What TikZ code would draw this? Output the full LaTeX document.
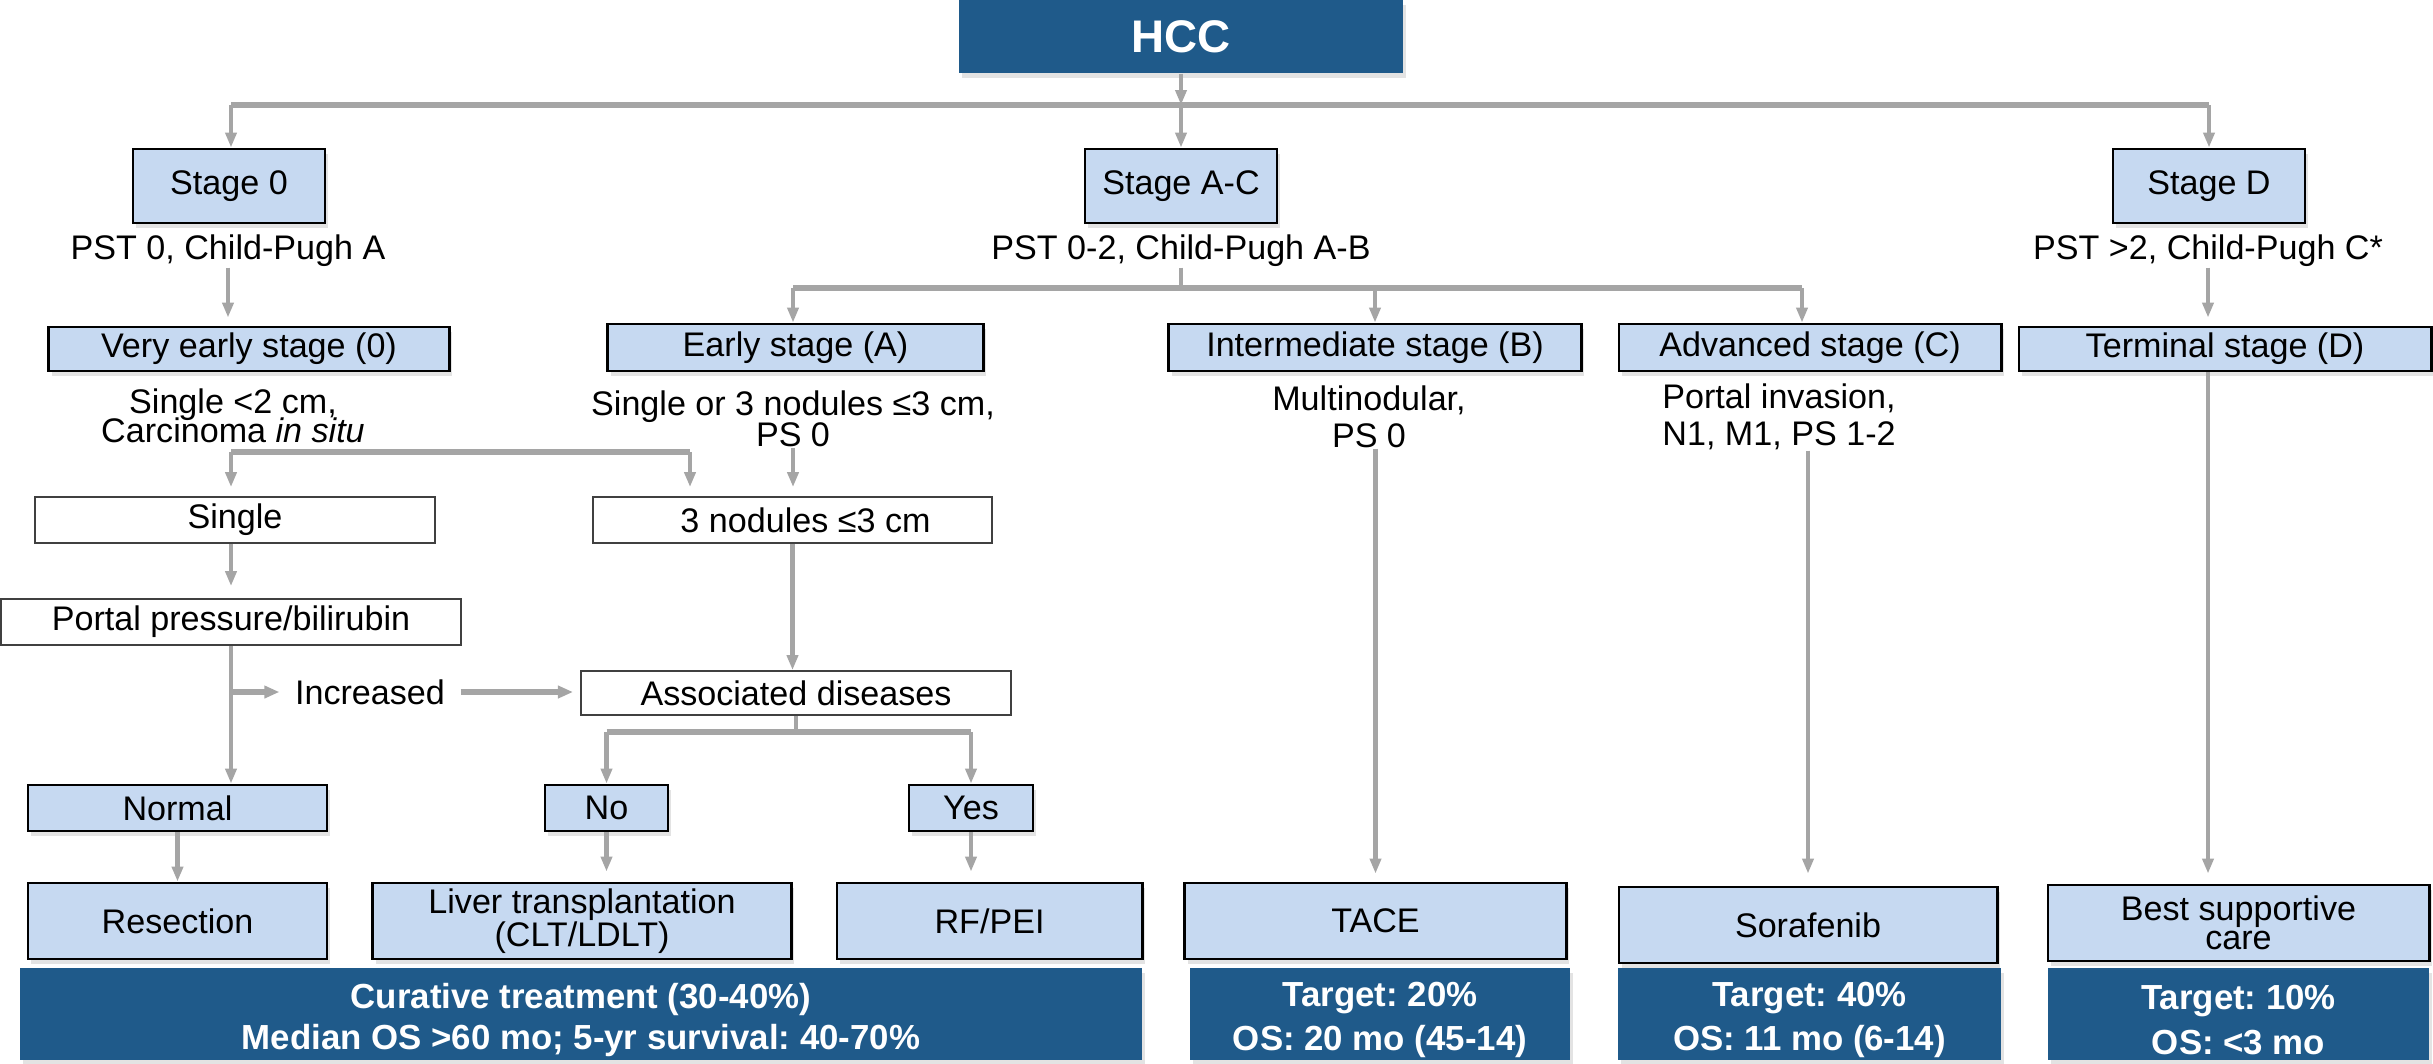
\documentclass[tikz,border=0pt]{standalone}
\usepackage{fontspec}
\setmainfont{Liberation Sans}
\usetikzlibrary{arrows.meta,shadows}
\definecolor{lblue}{HTML}{C6D9F1}
\definecolor{dblue}{HTML}{1F5A8A}
\definecolor{conn}{HTML}{A5A5A5}
\begin{document}
\frenchspacing
\lineskiplimit=-20pt
\begin{tikzpicture}[x=0.01cm,y=-0.01cm,
  every node/.style={font=\fontsize{9.7pt}{11pt}\selectfont, inner sep=0pt},
  shad/.style={drop shadow={opacity=0.22, shadow xshift=0.03cm, shadow yshift=-0.05cm}},
  lbox/.style={draw=black, line width=0.8pt, fill=lblue, align=center, shad},
  wbox/.style={draw=black!75, line width=0.5pt, fill=white, align=center},
  dbox/.style={fill=dblue, shad, minimum height=0.92cm},
  dtext/.style={text=white, align=center, font=\bfseries\fontsize{9.9pt}{12.7pt}\selectfont},
  txt/.style={align=center},
  ln/.style={draw=conn, line width=1.25pt},
  bar/.style={draw=conn, line width=1.7pt},
  arr/.style={draw=conn, line width=1.25pt, -{Triangle[length=0.15cm,width=0.11cm]}},
  barr/.style={draw=conn, line width=1.7pt, -{Triangle[length=0.15cm,width=0.12cm]}},
]
\useasboundingbox (0,0) rectangle (2433,1063);

% ---- top
\node[dbox, minimum width=4.44cm, minimum height=0.73cm, text=white,
  font=\bfseries\fontsize{13pt}{14pt}\selectfont] (hcc) at (1181,36.5) {HCC};
\node[lbox, minimum width=1.92cm, minimum height=0.74cm] (s0) at (229,186) {Stage 0};
\node[lbox, minimum width=1.92cm, minimum height=0.74cm] (sac) at (1181,186) {Stage A-C};
\node[lbox, minimum width=1.92cm, minimum height=0.74cm] (sd) at (2209,186) {Stage D};
\node[txt] (t0) at (228,251) {PST 0, Child-Pugh A};
\node[txt] (tac) at (1181,251) {PST 0-2, Child-Pugh A-B};
\node[txt] (td) at (2208,251) {PST >2, Child-Pugh C*};

% ---- stages
\node[lbox, minimum width=4cm, minimum height=0.44cm] (ve) at (249,349) {Very early stage (0)};
\node[lbox, minimum width=3.75cm, minimum height=0.47cm] (ea) at (795.5,347.5) {Early stage (A)};
\node[lbox, minimum width=4.12cm, minimum height=0.47cm] (im) at (1375,347.5) {Intermediate stage (B)};
\node[lbox, minimum width=3.82cm, minimum height=0.47cm] (ad) at (1810,347.5) {Advanced stage (C)};
\node[lbox, minimum width=4.12cm, minimum height=0.44cm] (te) at (2225,349) {Terminal stage (D)};

\node[txt, font=\fontsize{9.7pt}{8.3pt}\selectfont] (vt) at (233,416) {Single <2 cm,\\Carcinoma \textit{in situ}};
\node[txt, font=\fontsize{9.7pt}{8.8pt}\selectfont] (et) at (793,419) {Single or 3 nodules ≤3 cm,\\PS 0};
\node[txt, font=\fontsize{9.7pt}{10.5pt}\selectfont] (imt) at (1369,417) {Multinodular,\\PS 0};
\node[txt, font=\fontsize{9.7pt}{10.5pt}\selectfont] (adt) at (1779,417) {Portal invasion,\\N1, M1, PS 1-2};

% ---- white boxes
\node[wbox, minimum width=4cm, minimum height=0.46cm] (si) at (235,520) {Single};
\node[wbox, minimum width=3.99cm, minimum height=0.46cm] (tn) at (792.5,520) {\hspace{0.26cm}3 nodules ≤3 cm};
\node[wbox, minimum width=4.6cm, minimum height=0.46cm] (pp) at (231,622) {Portal pressure/bilirubin};
\node[wbox, minimum width=4.3cm, minimum height=0.44cm] (as) at (796,693) {Associated diseases};
\node[txt, inner xsep=0.15cm] (inc) at (370,692) {Increased};

% ---- decisions
\node[lbox, minimum width=2.99cm, minimum height=0.46cm] (nm) at (177.5,808) {Normal};
\node[lbox, minimum width=1.23cm, minimum height=0.46cm] (no) at (606.5,808) {No};
\node[lbox, minimum width=1.24cm, minimum height=0.46cm] (ye) at (971,808) {Yes};

% ---- treatments
\node[lbox, minimum width=2.99cm, minimum height=0.76cm] (re) at (177.5,921) {Resection};
\node[lbox, minimum width=4.18cm, minimum height=0.76cm,
  font=\fontsize{9.7pt}{9.4pt}\selectfont] (lt) at (582,921) {Liver transplantation\\(CLT/LDLT)};
\node[lbox, minimum width=3.05cm, minimum height=0.76cm] (rf) at (989.5,921) {RF/PEI};
\node[lbox, minimum width=3.81cm, minimum height=0.76cm] (ta) at (1375.5,921) {TACE};
\node[lbox, minimum width=3.78cm, minimum height=0.76cm] (so) at (1808,925) {Sorafenib};
\node[lbox, minimum width=3.81cm, minimum height=0.76cm,
  font=\fontsize{9.7pt}{8.3pt}\selectfont] (bs) at (2238.5,923) {Best supportive\\care};

% ---- outcomes
\node[dbox, minimum width=11.22cm] (cu) at (581,1014) {};
\node[dbox, minimum width=3.8cm] (tt) at (1380,1014) {};
\node[dbox, minimum width=3.83cm] (st) at (1809.5,1014) {};
\node[dbox, minimum width=3.81cm] (bt) at (2238.5,1014) {};
\node[dtext, font=\bfseries\fontsize{9.9pt}{11.4pt}\selectfont] (cut) at (581,1020)
  {Curative treatment (30-40\%)\\Median OS >60 mo; 5-yr survival: 40-70\%};
\node[dtext] (ttt) at (1380,1020) {Target: 20\%\\OS: 20 mo (45-14)};
\node[dtext] (stt) at (1809.5,1020) {Target: 40\%\\OS: 11 mo (6-14)};
\node[dtext] (btt) at (2238.5,1020) {Target: 10\%\\OS: <3 mo};

% ---- connectors
\coordinate (j0) at (1181,105);
\coordinate (jl) at (231,105);
\coordinate (jr) at (2209,105);
\draw[arr] (hcc.south) -- (j0);
\draw[bar] (jl) -- (jr);
\draw[arr] (jl) -- (jl |- s0.north);
\draw[arr] (jr) -- (jr |- sd.north);
\draw[arr] (j0) -- (sac);

\draw[arr, shorten >=0.08cm] (t0.south) -- (t0.south |- ve.north);
\draw[arr, shorten >=0.08cm] (td.south) -- (td.south |- te.north);

\coordinate (j1) at (1181,288);
\coordinate (j1l) at (793,288);
\coordinate (j1r) at (1802,288);
\draw[ln] (tac.south) -- (j1);
\draw[bar] (j1l) -- (j1r);
\draw[arr] (j1l) -- (j1l |- ea.north);
\draw[arr] (im.north |- j1) -- (im.north);
\draw[arr] (j1r) -- (j1r |- ad.north);

\coordinate (j2) at (231,452);
\coordinate (j3) at (690,452);
\draw[bar] (j2) -- (j3);
\draw[arr, shorten >=0.09cm] (j2) -- (j2 |- si.north);
\draw[arr, shorten >=0.09cm] (j3) -- (j3 |- tn.north);
\draw[arr, shorten >=0.09cm] (et.south) -- (et.south |- tn.north);

\draw[arr, shorten >=0.12cm] (si.south -| j2) -- (j2 |- pp.north);
\draw[arr] (tn.south) -- (tn.south |- as.north);

\draw[arr] (pp.south) -- (pp.south |- nm.north);
\draw[barr] (pp.south |- inc.west) -- (inc.west);
\draw[barr, shorten >=0.07cm] (inc.east) -- (inc.east -| as.west);

\coordinate (j5) at (796,732);
\draw[ln] (as.south) -- (j5);
\draw[bar] (no.north |- j5) -- (ye.north |- j5);
\draw[arr] (no.north |- j5) -- (no.north);
\draw[arr] (ye.north |- j5) -- (ye.north);

\draw[arr] (nm) -- (re);
\draw[arr, shorten >=0.1cm] (no.south) -- (no.south |- lt.north);
\draw[arr, shorten >=0.1cm] (ye.south) -- (ye.south |- rf.north);
\draw[arr, shorten >=0.08cm] (ta.north |- imt.south) -- (ta.north);
\draw[arr, shorten >=0.12cm] (so.north |- adt.south) -- (so.north);
\draw[arr, shorten >=0.1cm] (te.south -| td.south) -- (td.south |- bs.north);
\end{tikzpicture}
\end{document}
